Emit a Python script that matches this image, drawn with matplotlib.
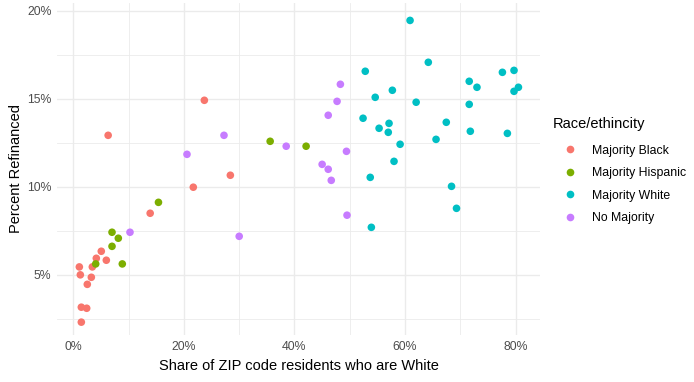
import matplotlib
matplotlib.use("Agg")
import matplotlib.pyplot as plt
from matplotlib.ticker import FuncFormatter, MultipleLocator
from matplotlib.lines import Line2D

plt.rcParams['font.family'] = ['Liberation Sans', 'DejaVu Sans']

# Share of ZIP code residents who are White (%), Percent refinanced (%)
black_x = [23.7, 6.3, 28.4, 21.7, 13.9, 5.06, 4.16, 5.97, 3.44, 1.09, 1.27, 3.26, 2.53, 1.45, 2.42, 1.45]
black_y = [14.91, 12.92, 10.65, 9.97, 8.49, 6.33, 5.93, 5.82, 5.44, 5.44, 4.99, 4.85, 4.45, 3.15, 3.09, 2.30]

hisp_x = [15.4, 7.0, 8.14, 7.0, 4.05, 8.86, 35.6, 42.1]
hisp_y = [9.11, 7.41, 7.07, 6.61, 5.61, 5.61, 12.58, 12.30]

white_x = [60.9, 64.2, 52.8, 77.6, 79.7, 71.6, 73.0, 80.5, 79.7, 57.7, 54.6, 62.0, 71.6,
           52.4, 57.1, 55.3, 56.96, 67.45, 71.8, 78.5, 65.6, 59.1, 58.0, 53.7, 68.4, 69.3, 53.9]
white_y = [19.45, 17.07, 16.56, 16.50, 16.61, 15.99, 15.65, 15.65, 15.42, 15.48, 15.08, 14.80, 14.68,
           13.89, 13.60, 13.32, 13.09, 13.66, 13.15, 13.03, 12.69, 12.41, 11.44, 10.53, 10.02, 8.77, 7.69]

nomaj_x = [27.25, 20.56, 10.25, 30.0, 38.5, 48.3, 47.7, 46.1, 49.4, 45.0, 46.1, 46.65, 49.5]
nomaj_y = [12.92, 11.84, 7.41, 7.18, 12.30, 15.82, 14.85, 14.06, 12.01, 11.27, 10.99, 10.36, 8.38]

groups = ["Majority Black", "Majority Hispanic", "Majority White", "No Majority"]
colors = ["#F8766D", "#7CAE00", "#00BFC4", "#C77CFF"]
series = [(black_x, black_y), (hisp_x, hisp_y), (white_x, white_y), (nomaj_x, nomaj_y)]

fig = plt.figure(figsize=(6.94, 3.82), dpi=100)
ax = fig.add_axes([57/694, 47/382, (540-57)/694, (335-3)/382])

for (xs, ys), c in zip(series, colors):
    ax.scatter(xs, ys, s=30, color=c, edgecolors='none', zorder=3)

ax.set_xlim(-2.95, 84.4)
ax.set_ylim(1.57, 20.44)
ax.xaxis.set_major_locator(MultipleLocator(20))
ax.xaxis.set_minor_locator(MultipleLocator(10))
ax.yaxis.set_major_locator(MultipleLocator(5))
ax.yaxis.set_minor_locator(MultipleLocator(2.5))
fmt = FuncFormatter(lambda v, p: f"{v:.0f}%")
ax.xaxis.set_major_formatter(fmt)
ax.yaxis.set_major_formatter(fmt)
ax.grid(which='major', color='#EBEBEB', linewidth=1.0, zorder=0)
ax.grid(which='minor', color='#EBEBEB', linewidth=0.6, zorder=0)
ax.set_axisbelow(True)
for s in ax.spines.values():
    s.set_visible(False)
ax.tick_params(which='both', length=0, labelsize=8.8, labelcolor='#4D4D4D', pad=4)
ax.set_xlabel("Share of ZIP code residents who are White", fontsize=10.5, color='black', labelpad=5)
ax.set_ylabel("Percent Refinanced", fontsize=10.5, color='black', labelpad=3)

handles = [Line2D([0], [0], marker='o', linestyle='none', markersize=5.5,
                  markerfacecolor=c, markeredgecolor='none') for c in colors]
leg = fig.legend(handles, groups, loc='upper left', bbox_to_anchor=(548/694, 1 - 112/382),
                 frameon=False, title="Race/ethincity", fontsize=8.8, title_fontsize=10.5,
                 handletextpad=0.4, labelspacing=0.85, borderaxespad=0, handlelength=2.8)
leg._legend_box.align = "left"
leg._legend_box.sep = 0.85 * 8.8 + 2.5

fig.savefig("out.png", dpi=100)
